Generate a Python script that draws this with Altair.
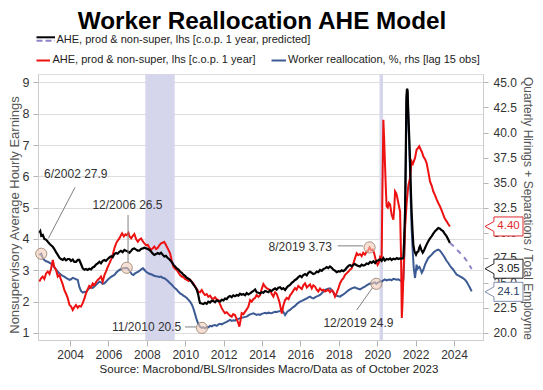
import altair as alt
import pandas as pd

# ---------------- data ----------------
red_year = [2002.40, 2002.50, 2002.57, 2002.66, 2002.75, 2002.84, 2002.93, 2003.01, 2003.10, 2003.18,
            2003.27, 2003.36, 2003.45, 2003.53, 2003.62, 2003.70, 2003.79, 2003.88, 2003.97, 2004.05,
            2004.14, 2004.22, 2004.31, 2004.40, 2004.48, 2004.57, 2004.66, 2004.75, 2004.83, 2004.92,
            2005.00, 2005.09, 2005.18, 2005.27, 2005.35, 2005.44, 2005.53, 2005.61, 2005.70, 2005.79,
            2005.87, 2005.96, 2006.05, 2006.14, 2006.22, 2006.31, 2006.40, 2006.48, 2006.57, 2006.65,
            2006.71, 2006.80, 2006.88, 2006.95, 2007.04, 2007.10, 2007.18, 2007.27, 2007.35, 2007.44,
            2007.53, 2007.61, 2007.70, 2007.79, 2007.87, 2007.96, 2008.05, 2008.13, 2008.22, 2008.30,
            2008.39, 2008.48, 2008.57, 2008.65, 2008.74, 2008.82, 2008.90, 2008.97, 2009.04, 2009.12,
            2009.21, 2009.30, 2009.38, 2009.47, 2009.56, 2009.65, 2009.73, 2009.82, 2009.90, 2009.99,
            2010.08, 2010.17, 2010.25, 2010.34, 2010.42, 2010.51, 2010.60, 2010.68, 2010.77, 2010.86,
            2010.94, 2011.03, 2011.12, 2011.20, 2011.29, 2011.38, 2011.46, 2011.55, 2011.64, 2011.73,
            2011.81, 2011.90, 2011.99, 2012.07, 2012.16, 2012.25, 2012.33, 2012.42, 2012.50, 2012.59,
            2012.68, 2012.77, 2012.82, 2012.88, 2012.94, 2013.03, 2013.12, 2013.20, 2013.29, 2013.38,
            2013.46, 2013.55, 2013.64, 2013.72, 2013.81, 2013.90, 2013.98, 2014.07, 2014.16, 2014.24,
            2014.33, 2014.42, 2014.50, 2014.59, 2014.68, 2014.76, 2014.85, 2014.90, 2014.97, 2015.03,
            2015.10, 2015.20, 2015.29, 2015.38, 2015.46, 2015.55, 2015.63, 2015.72, 2015.80, 2015.89,
            2015.98, 2016.07, 2016.15, 2016.24, 2016.33, 2016.41, 2016.50, 2016.59, 2016.67, 2016.76,
            2016.85, 2016.93, 2017.02, 2017.11, 2017.20, 2017.28, 2017.37, 2017.45, 2017.54, 2017.63,
            2017.71, 2017.80, 2017.89, 2017.98, 2018.06, 2018.15, 2018.24, 2018.32, 2018.41, 2018.50,
            2018.58, 2018.67, 2018.76, 2018.84, 2018.93, 2019.01, 2019.10, 2019.19, 2019.27, 2019.36,
            2019.45, 2019.52, 2019.60, 2019.68, 2019.76, 2019.84, 2019.92, 2020.02, 2020.09, 2020.15,
            2020.23, 2020.27, 2020.32, 2020.36, 2020.40, 2020.45, 2020.49, 2020.55, 2020.60, 2020.67,
            2020.75, 2020.84, 2020.89, 2020.93, 2021.00, 2021.05, 2021.10, 2021.19, 2021.24, 2021.28,
            2021.32, 2021.36, 2021.45, 2021.54, 2021.62, 2021.71, 2021.79, 2021.86, 2021.97, 2022.05,
            2022.12, 2022.19, 2022.27, 2022.33, 2022.40, 2022.49, 2022.57, 2022.66, 2022.75, 2022.84,
            2022.92, 2023.01, 2023.10, 2023.18, 2023.27, 2023.35, 2023.44, 2023.52, 2023.61, 2023.70,
            2023.79]
red_val = [2.64, 2.75, 2.80, 2.72, 2.90, 2.96, 2.88, 3.05, 3.33, 3.10,
           3.01, 2.80, 2.85, 2.69, 2.55, 2.37, 2.25, 2.11, 1.89, 1.85,
           1.73, 1.82, 1.89, 1.80, 1.86, 1.84, 1.95, 2.10, 2.27, 2.40,
           2.50, 2.45, 2.58, 2.53, 2.62, 2.69, 2.74, 2.80, 2.64, 2.85,
           2.96, 3.10, 3.22, 3.35, 3.49, 3.70, 3.86, 3.95, 4.02, 4.12,
           4.18, 4.08, 4.15, 4.12, 4.20, 4.08, 4.02, 4.10, 4.16, 4.00,
           3.91, 3.98, 4.02, 3.92, 3.86, 3.80, 3.81, 3.72, 3.65, 3.70,
           3.76, 3.68, 3.72, 3.80, 3.86, 3.88, 3.91, 3.84, 3.75, 3.66,
           3.54, 3.30, 3.12, 3.05, 3.01, 2.92, 2.85, 2.80, 2.78, 2.72,
           2.69, 2.66, 2.70, 2.64, 2.58, 2.48, 2.40, 2.32, 2.30, 2.37,
           2.28, 2.21, 2.24, 2.15, 2.19, 2.11, 2.08, 2.14, 2.07, 2.05,
           1.92, 1.79, 1.70, 1.63, 1.66, 1.60, 1.55, 1.52, 1.60, 1.57,
           1.45, 1.30, 1.20, 1.40, 1.63, 1.60, 1.68, 1.75, 1.84, 2.05,
           2.00, 2.08, 2.12, 2.21, 2.15, 2.20, 2.40, 2.56, 2.48, 2.43,
           2.40, 2.37, 2.25, 2.16, 2.30, 2.25, 2.10, 2.00, 1.80, 1.62,
           1.85, 2.05, 2.12, 2.08, 2.20, 2.27, 2.35, 2.43, 2.38, 2.50,
           2.45, 2.40, 2.52, 2.58, 2.45, 2.50, 2.55, 2.42, 2.52, 2.48,
           2.38, 2.32, 2.42, 2.36, 2.38, 2.32, 2.35, 2.38, 2.30, 2.36,
           2.32, 2.16, 2.28, 2.43, 2.58, 2.69, 2.75, 2.85, 2.90, 2.96,
           3.02, 3.06, 3.22, 3.38, 3.54, 3.48, 3.52, 3.45, 3.56, 3.50,
           3.59, 3.62, 3.73, 3.64, 3.66, 3.55, 3.33, 3.17, 3.25, 3.43,
           3.39, 5.50, 7.81, 7.20, 6.48, 5.60, 5.04, 5.00, 5.15, 5.10,
           4.78, 4.62, 5.00, 5.52, 5.45, 5.30, 5.15, 4.88, 3.50, 1.48,
           2.00, 2.75, 4.35, 5.20, 5.70, 5.95, 6.48, 6.40, 6.59, 6.85,
           6.90, 6.96, 6.85, 6.78, 6.64, 6.55, 6.43, 6.15, 5.84, 5.70,
           5.52, 5.40, 5.26, 5.15, 5.04, 4.92, 4.78, 4.65, 4.57, 4.48,
           4.40]

black_year = [2002.40, 2002.45, 2002.50, 2002.58, 2002.66, 2002.75, 2002.84, 2002.93, 2003.01, 2003.10,
              2003.18, 2003.27, 2003.36, 2003.45, 2003.53, 2003.62, 2003.70, 2003.79, 2003.88, 2003.97,
              2004.05, 2004.14, 2004.22, 2004.31, 2004.40, 2004.48, 2004.57, 2004.66, 2004.75, 2004.83,
              2004.92, 2005.00, 2005.09, 2005.18, 2005.27, 2005.35, 2005.44, 2005.53, 2005.61, 2005.70,
              2005.79, 2005.87, 2005.96, 2006.05, 2006.14, 2006.22, 2006.31, 2006.40, 2006.48, 2006.57,
              2006.65, 2006.74, 2006.83, 2006.92, 2007.00, 2007.09, 2007.18, 2007.26, 2007.35, 2007.44,
              2007.52, 2007.61, 2007.70, 2007.79, 2007.87, 2007.96, 2008.05, 2008.13, 2008.22, 2008.30,
              2008.39, 2008.48, 2008.57, 2008.65, 2008.74, 2008.82, 2008.91, 2008.99, 2009.08, 2009.21,
              2009.30, 2009.38, 2009.47, 2009.56, 2009.65, 2009.73, 2009.82, 2009.90, 2009.99, 2010.08,
              2010.17, 2010.25, 2010.34, 2010.42, 2010.51, 2010.60, 2010.68, 2010.73, 2010.77, 2010.86,
              2010.94, 2011.03, 2011.12, 2011.20, 2011.29, 2011.38, 2011.46, 2011.55, 2011.64, 2011.73,
              2011.81, 2011.90, 2011.99, 2012.07, 2012.16, 2012.25, 2012.33, 2012.42, 2012.50, 2012.59,
              2012.68, 2012.77, 2012.85, 2012.94, 2013.03, 2013.12, 2013.20, 2013.29, 2013.38, 2013.46,
              2013.55, 2013.64, 2013.72, 2013.81, 2013.90, 2013.98, 2014.07, 2014.16, 2014.24, 2014.33,
              2014.42, 2014.50, 2014.59, 2014.68, 2014.76, 2014.85, 2014.94, 2015.03, 2015.11, 2015.20,
              2015.29, 2015.37, 2015.46, 2015.55, 2015.63, 2015.72, 2015.80, 2015.89, 2015.98, 2016.07,
              2016.15, 2016.24, 2016.33, 2016.41, 2016.50, 2016.59, 2016.67, 2016.76, 2016.85, 2016.93,
              2017.02, 2017.11, 2017.20, 2017.28, 2017.37, 2017.45, 2017.54, 2017.63, 2017.71, 2017.80,
              2017.89, 2017.98, 2018.06, 2018.15, 2018.24, 2018.32, 2018.41, 2018.50, 2018.58, 2018.67,
              2018.76, 2018.84, 2018.93, 2019.01, 2019.10, 2019.19, 2019.27, 2019.36, 2019.45, 2019.54,
              2019.63, 2019.71, 2019.80, 2019.89, 2019.97, 2020.06, 2020.15, 2020.23, 2020.32, 2020.40,
              2020.49, 2020.58, 2020.67, 2020.75, 2020.84, 2020.93, 2021.02, 2021.10, 2021.19, 2021.28,
              2021.36, 2021.40, 2021.45, 2021.49, 2021.52, 2021.55, 2021.58, 2021.62, 2021.67, 2021.71,
              2021.75, 2021.79, 2021.84, 2021.88, 2021.94, 2022.02, 2022.08, 2022.14, 2022.19, 2022.23,
              2022.30, 2022.37, 2022.43, 2022.49, 2022.57, 2022.66, 2022.75, 2022.84, 2022.92, 2023.01,
              2023.10, 2023.18, 2023.27, 2023.35, 2023.43, 2023.52, 2023.61, 2023.70, 2023.79]
black_val = [4.20, 4.25, 4.10, 4.13, 4.00, 3.98, 3.91, 3.85, 3.80, 3.75,
             3.68, 3.58, 3.49, 3.40, 3.36, 3.33, 3.38, 3.32, 3.36, 3.36,
             3.30, 3.34, 3.27, 3.27, 3.33, 3.33, 3.20, 3.06, 3.02, 3.04,
             3.01, 3.05, 3.03, 3.09, 3.12, 3.18, 3.22, 3.27, 3.22, 3.30,
             3.33, 3.30, 3.36, 3.41, 3.45, 3.42, 3.52, 3.55, 3.53, 3.59,
             3.62, 3.58, 3.65, 3.62, 3.60, 3.56, 3.62, 3.68, 3.70, 3.66,
             3.63, 3.63, 3.68, 3.70, 3.72, 3.70, 3.68, 3.65, 3.60, 3.54,
             3.49, 3.52, 3.55, 3.52, 3.56, 3.50, 3.44, 3.46, 3.40, 3.33,
             3.26, 3.18, 3.12, 3.06, 3.02, 2.96, 2.92, 2.86, 2.82, 2.76,
             2.73, 2.69, 2.62, 2.55, 2.48, 2.38, 2.21, 2.05, 1.95, 1.94,
             1.92, 1.96, 1.93, 2.00, 1.97, 2.03, 2.02, 1.98, 2.04, 2.01,
             2.00, 2.06, 2.04, 2.10, 2.08, 2.15, 2.18, 2.14, 2.20, 2.17,
             2.21, 2.19, 2.25, 2.22, 2.24, 2.20, 2.27, 2.23, 2.26, 2.30,
             2.34, 2.39, 2.30, 2.28, 2.26, 2.30, 2.28, 2.34, 2.32, 2.30,
             2.36, 2.34, 2.39, 2.42, 2.38, 2.44, 2.46, 2.40, 2.43, 2.37,
             2.45, 2.50, 2.53, 2.60, 2.64, 2.69, 2.72, 2.78, 2.82, 2.78,
             2.85, 2.88, 2.84, 2.92, 2.96, 2.92, 2.88, 2.90, 2.96, 2.94,
             3.01, 2.98, 3.04, 3.06, 3.10, 3.07, 3.12, 3.08, 3.02, 2.99,
             2.94, 2.97, 2.96, 3.00, 2.97, 3.01, 3.08, 3.14, 3.17, 3.13,
             3.18, 3.20, 3.16, 3.14, 3.12, 3.18, 3.15, 3.17, 3.22, 3.20,
             3.27, 3.24, 3.29, 3.23, 3.30, 3.32, 3.35, 3.30, 3.39, 3.31,
             3.36, 3.34, 3.38, 3.33, 3.37, 3.35, 3.39, 3.36, 3.38, 3.37,
             3.39, 3.90, 4.88, 6.80, 8.50, 8.80, 8.75, 8.00, 7.20, 6.48,
             5.60, 4.88, 4.25, 3.82, 3.60, 3.50, 3.58, 3.60, 3.72, 3.77,
             3.65, 3.56, 3.62, 3.71, 3.82, 3.93, 4.02, 4.09, 4.17, 4.25,
             4.30, 4.35, 4.33, 4.28, 4.25, 4.16, 4.09, 3.98, 3.87]

fc_year = [2023.79, 2024.00, 2024.14, 2024.31, 2024.45, 2024.57, 2024.75, 2024.92]
fc_val = [3.87, 3.76, 3.66, 3.56, 3.46, 3.38, 3.22, 3.04]

blue_year = [2002.40, 2002.50, 2002.58, 2002.66, 2002.75, 2002.84, 2002.92, 2003.01, 2003.10, 2003.18,
             2003.27, 2003.36, 2003.44, 2003.53, 2003.62, 2003.70, 2003.79, 2003.88, 2003.97, 2004.05,
             2004.14, 2004.22, 2004.31, 2004.40, 2004.48, 2004.57, 2004.66, 2004.75, 2004.83, 2004.92,
             2005.00, 2005.09, 2005.18, 2005.27, 2005.35, 2005.44, 2005.53, 2005.61, 2005.70, 2005.79,
             2005.87, 2005.96, 2006.05, 2006.14, 2006.22, 2006.31, 2006.40, 2006.48, 2006.57, 2006.65,
             2006.74, 2006.83, 2006.95, 2007.04, 2007.13, 2007.22, 2007.30, 2007.39, 2007.48, 2007.56,
             2007.65, 2007.74, 2007.80, 2007.87, 2007.96, 2008.05, 2008.13, 2008.22, 2008.30, 2008.39,
             2008.48, 2008.57, 2008.65, 2008.74, 2008.82, 2008.91, 2008.99, 2009.08, 2009.21, 2009.30,
             2009.38, 2009.47, 2009.56, 2009.65, 2009.73, 2009.82, 2009.90, 2009.99, 2010.08, 2010.17,
             2010.25, 2010.34, 2010.42, 2010.51, 2010.60, 2010.68, 2010.77, 2010.87, 2010.94, 2011.03,
             2011.12, 2011.20, 2011.29, 2011.38, 2011.46, 2011.55, 2011.64, 2011.73, 2011.81, 2011.90,
             2011.99, 2012.07, 2012.16, 2012.25, 2012.33, 2012.42, 2012.50, 2012.59, 2012.68, 2012.77,
             2012.85, 2012.94, 2013.03, 2013.12, 2013.20, 2013.29, 2013.38, 2013.46, 2013.55, 2013.64,
             2013.72, 2013.81, 2013.90, 2013.98, 2014.07, 2014.16, 2014.24, 2014.33, 2014.42, 2014.50,
             2014.59, 2014.68, 2014.76, 2014.85, 2014.94, 2015.03, 2015.11, 2015.20, 2015.29, 2015.37,
             2015.46, 2015.55, 2015.63, 2015.72, 2015.80, 2015.89, 2015.98, 2016.07, 2016.15, 2016.24,
             2016.33, 2016.41, 2016.50, 2016.59, 2016.67, 2016.76, 2016.85, 2016.93, 2017.02, 2017.11,
             2017.20, 2017.28, 2017.37, 2017.45, 2017.54, 2017.63, 2017.71, 2017.80, 2017.89, 2017.98,
             2018.06, 2018.15, 2018.24, 2018.32, 2018.41, 2018.50, 2018.58, 2018.67, 2018.76, 2018.84,
             2018.93, 2019.01, 2019.10, 2019.19, 2019.27, 2019.36, 2019.45, 2019.54, 2019.63, 2019.71,
             2019.80, 2019.89, 2019.95, 2020.06, 2020.15, 2020.23, 2020.32, 2020.40, 2020.49, 2020.58,
             2020.67, 2020.75, 2020.84, 2020.93, 2021.02, 2021.10, 2021.19, 2021.28, 2021.36, 2021.40,
             2021.45, 2021.49, 2021.52, 2021.55, 2021.58, 2021.62, 2021.67, 2021.71, 2021.75, 2021.79,
             2021.84, 2021.90, 2021.97, 2022.02, 2022.05, 2022.10, 2022.14, 2022.19, 2022.23, 2022.28,
             2022.32, 2022.40, 2022.49, 2022.57, 2022.66, 2022.75, 2022.84, 2022.92, 2023.01, 2023.10,
             2023.18, 2023.27, 2023.35, 2023.44, 2023.53, 2023.61, 2023.70, 2023.79, 2023.87, 2023.96,
             2024.05, 2024.14, 2024.22, 2024.31, 2024.40, 2024.48, 2024.57, 2024.66, 2024.74, 2024.83,
             2024.92]
blue_val = [27.78, 27.90, 27.45, 27.28, 27.15, 27.10, 27.02, 26.90, 26.75, 26.55,
            26.35, 26.10, 25.95, 25.80, 25.70, 25.62, 25.50, 25.40, 25.29, 25.35,
            25.50, 25.45, 25.35, 25.29, 24.62, 24.20, 24.02, 24.10, 24.05, 24.30,
            24.45, 24.55, 24.50, 24.62, 24.80, 24.95, 25.12, 25.05, 24.90, 24.95,
            25.10, 25.30, 25.45, 25.60, 25.70, 25.78, 26.00, 26.15, 26.28, 26.35,
            26.45, 26.45, 26.50, 26.35, 26.10, 25.85, 25.78, 25.95, 26.05, 26.12,
            26.25, 26.40, 26.45, 26.30, 26.10, 26.00, 25.90, 25.85, 25.78, 25.70,
            25.65, 25.62, 25.58, 25.62, 25.50, 25.45, 25.36, 25.20, 24.95, 24.80,
            24.62, 24.45, 24.30, 24.10, 23.95, 23.85, 23.72, 23.62, 23.48, 23.30,
            23.12, 22.85, 22.46, 21.90, 21.29, 20.90, 20.62, 20.50, 20.55, 20.46,
            20.60, 20.55, 20.70, 20.65, 20.75, 20.79, 20.70, 20.85, 20.90, 20.85,
            20.95, 21.02, 21.10, 21.20, 21.29, 21.20, 21.25, 21.22, 21.35, 21.40,
            21.46, 21.50, 21.55, 21.60, 21.62, 21.75, 21.85, 21.90, 21.96, 21.88,
            21.80, 21.85, 21.80, 21.90, 21.95, 22.00, 21.95, 22.02, 21.98, 21.96,
            22.05, 22.10, 22.08, 22.13, 22.20, 22.29, 22.10, 21.79, 22.05, 22.20,
            22.29, 22.45, 22.58, 22.69, 22.85, 23.00, 23.12, 23.20, 23.28, 23.36,
            23.45, 23.55, 23.62, 23.50, 23.45, 23.55, 23.65, 23.70, 23.79, 23.95,
            24.15, 24.29, 24.35, 24.40, 24.45, 24.30, 24.05, 23.79, 23.70, 23.65,
            23.62, 23.75, 23.85, 23.95, 24.10, 24.25, 24.35, 24.45, 24.50, 24.55,
            24.45, 24.40, 24.35, 24.45, 24.55, 24.62, 24.75, 24.85, 24.95, 24.90,
            25.00, 25.05, 24.90, 25.05, 25.15, 25.10, 25.25, 25.35, 25.25, 25.30,
            25.32, 25.25, 25.40, 25.35, 25.30, 25.35, 25.25, 25.15, 25.30, 27.00,
            31.00, 37.00, 42.50, 44.20, 44.00, 41.50, 38.50, 36.00, 33.00, 30.50,
            28.50, 26.50, 25.48, 26.30, 26.81, 26.40, 26.50, 26.60, 26.48, 26.20,
            26.00, 26.30, 26.81, 27.15, 27.48, 27.65, 27.81, 28.00, 28.15, 28.25,
            28.31, 28.20, 28.00, 27.75, 27.48, 27.20, 26.98, 26.70, 26.50, 26.31,
            26.05, 25.81, 25.75, 25.65, 25.55, 25.45, 25.32, 25.10, 24.82, 24.50,
            24.15]

recession_start = [2007.92, 2020.12]
recession_end = [2009.45, 2020.30]

ann_label = ["6/2002 27.9", "12/2006 26.5", "11/2010 20.5", "8/2019 3.73", "12/2019 24.9"]
ann_year = [2002.50, 2006.95, 2010.87, 2019.60, 2019.95]
ann_value = [27.9, 26.5, 20.5, 3.73, 24.9]
ann_side = ["rhs", "rhs", "rhs", "lhs", "rhs"]
ann_text_year = [2004.30, 2006.99, 2007.99, 2015.99, 2019.02]
ann_text_val = [6.07, 5.09, 1.20, 3.75, 1.33]
lead_x1 = [2004.26, 2007.02, 2009.99, 2017.94, 2018.93]
lead_y1 = [5.65, 4.77, 1.19, 3.78, 1.73]
lead_x2 = [2002.87, 2007.02, 2010.56, 2019.26, 2019.80]
lead_y2 = [4.02, 3.27, 1.19, 3.78, 2.48]

end_label = ["4.40", "3.05", "24.1"]
end_value = [4.40, 3.05, 24.1]
end_side = ["lhs", "lhs", "rhs"]
end_stroke = ["#e0282e", "#222222", "#7f8db0"]
end_text_color = ["#e0282e", "#111111", "#2c3e66"]
end_nudge = [0, 0, -6]

# ---------------- layout ----------------
W, H = 445, 266
X_DOM = [2002.33, 2025.51]
L_DOM = [0.773, 9.27]
R_DOM = [20 + (L_DOM[0] - 1) * 3.125, 20 + (L_DOM[1] - 1) * 3.125]
FONT = "Liberation Sans"

def rhs_to_lhs(r):
    return 1 + (r - 20) / 3.125

xs = alt.Scale(domain=X_DOM, nice=False, zero=False)
ls = alt.Scale(domain=L_DOM, nice=False, zero=False)
rs = alt.Scale(domain=R_DOM, nice=False, zero=False)

red_df = pd.DataFrame({"year": red_year, "v": red_val})
black_df = pd.DataFrame({"year": black_year, "v": black_val})
fc_df = pd.DataFrame({"year": fc_year, "v": fc_val})
blue_df = pd.DataFrame({"year": blue_year, "r": blue_val})
rec_df = pd.DataFrame({"s": recession_start, "e": recession_end})
ann_df = pd.DataFrame({
    "label": ann_label, "year": ann_year,
    "v": [rhs_to_lhs(a) if s == "rhs" else a for a, s in zip(ann_value, ann_side)],
    "ty": ann_text_year, "tv": ann_text_val,
    "x1": lead_x1, "y1": lead_y1, "x2": lead_x2, "y2": lead_y2,
})
end_df = pd.DataFrame({
    "label": end_label,
    "v": [rhs_to_lhs(a) if s == "rhs" else a for a, s in zip(end_value, end_side)],
    "stroke": end_stroke, "tcol": end_text_color, "nudge": end_nudge,
})
one = pd.DataFrame({"k": [0]})

x_axis = alt.Axis(values=list(range(2004, 2025, 2)), format="d", title=None, grid=False,
                  labelFontSize=12, labelColor="#333333", labelFont=FONT, tickColor="#b5b5b5",
                  tickSize=6, domainColor="#cccccc", labelPadding=3)
l_axis = alt.Axis(values=list(range(1, 10)), title=None, grid=True, gridColor="#dddddd",
                  tickColor="#b5b5b5", tickSize=5, domainColor="#cccccc", labelFontSize=12.5,
                  labelColor="#333333", labelFont=FONT, labelPadding=4)
r_axis = alt.Axis(orient="right", values=[20, 22.5, 25, 27.5, 30, 32.5, 35, 37.5, 40, 42.5, 45],
                  format=".1f", title=None, grid=False, tickColor="#b5b5b5", tickSize=5,
                  domainColor="#cccccc", labelFontSize=12, labelColor="#333333", labelFont=FONT,
                  labelPadding=5)

def XQ(f):
    return alt.X(f"{f}:Q", scale=xs, axis=x_axis)

def YL(f):
    return alt.Y(f"{f}:Q", scale=ls, axis=l_axis)

bands = alt.Chart(rec_df).mark_rect(color="#d5d5ec").encode(
    x=XQ("s"), x2="e:Q", y=alt.value(0), y2=alt.value(H))

blue = alt.Chart(blue_df).mark_line(color="#3c5a94", strokeWidth=2).encode(
    x=XQ("year"), y=alt.Y("r:Q", scale=rs, axis=r_axis))

red = alt.Chart(red_df).mark_line(color="#ee1111", strokeWidth=2).encode(x=XQ("year"), y=YL("v"))
black = alt.Chart(black_df).mark_line(color="#000000", strokeWidth=2.2).encode(x=XQ("year"), y=YL("v"))
fc = alt.Chart(fc_df).mark_line(color="#8c84c8", strokeWidth=2, strokeDash=[5, 5]).encode(
    x=XQ("year"), y=YL("v"))

leaders = alt.Chart(ann_df).mark_rule(color="#808080", strokeWidth=1).encode(
    x=XQ("x1"), x2="x2:Q", y=YL("y1"), y2="y2:Q")
circles = alt.Chart(ann_df).mark_point(shape="circle", size=125, filled=True, fill="#f2cdb8",
                                       fillOpacity=0.6, stroke="#a89080", strokeWidth=1).encode(
    x=XQ("year"), y=YL("v"))
ann_text = alt.Chart(ann_df).mark_text(font=FONT, fontSize=12, color="#333333").encode(
    x=XQ("ty"), y=YL("tv"), text="label:N")

CALLOUT = "M -1 0 L -0.53 -0.26 L -0.53 -0.5 L 1 -0.5 L 1 0.5 L -0.53 0.5 L -0.53 0.26 Z"
boxes = alt.Chart(end_df).mark_point(
    shape=CALLOUT, size=1444, filled=True, fill="white", strokeWidth=1, opacity=1).encode(
    x=alt.value(466), y=YL("v"),
    stroke=alt.Stroke("stroke:N", scale=None), yOffset=alt.YOffset("nudge:Q", scale=None))
box_text = alt.Chart(end_df).mark_text(font=FONT, fontSize=11.5).encode(
    x=alt.value(470.5), y=YL("v"), text="label:N",
    color=alt.Color("tcol:N", scale=None), yOffset=alt.YOffset("nudge:Q", scale=None))

def txt(s, x, y, **kw):
    return alt.Chart(one).mark_text(text=s, font=FONT, **kw).encode(x=alt.value(x), y=alt.value(y))

def hrule(x1, x2, y, **kw):
    return alt.Chart(one).mark_rule(**kw).encode(x=alt.value(x1), x2=alt.value(x2), y=alt.value(y))

title = txt("Worker Reallocation AHE Model", 224, -45, fontSize=24.3, fontWeight="bold",
            color="#000000", align="center", baseline="alphabetic")
leg = [
    hrule(-1.5, 17, -36.7, color="#000000", strokeWidth=2),
    hrule(-1.5, 17, -33.2, color="#8c84c8", strokeWidth=2, strokeDash=[6, 3]),
    txt("AHE, prod & non-super, lhs [c.o.p. 1 year, predicted]", 18.5, -34, fontSize=11,
        color="#222222", align="left", baseline="middle"),
    hrule(-1.5, 12, -13.5, color="#ee1111", strokeWidth=2),
    txt("AHE, prod & non-super, lhs [c.o.p. 1 year]", 14.5, -14, fontSize=11,
        color="#222222", align="left", baseline="middle"),
    hrule(233.5, 248, -13.5, color="#3c5a94", strokeWidth=2),
    txt("Worker reallocation, %, rhs [lag 15 obs]", 250, -14, fontSize=11,
        color="#222222", align="left", baseline="middle"),
]
ltitle = txt("Nonsupervisory Average Hourly Earnings", -23, 141, fontSize=13, angle=270,
             color="#555555", align="center", baseline="middle")
rtitle = txt("Quarterly Hirings + Separations / Total Employment", 490, 3, fontSize=12, angle=90,
             color="#555555", align="left", baseline="middle", limit=268, ellipsis=" ")
source = txt("Source: Macrobond/BLS/Ironsides Macro/Data as of October 2023", 231, 296,
             fontSize=11.5, color="#222222", align="center", baseline="middle")

# black drawn on top of red
left_group = alt.layer(red, black, fc, leaders, circles, ann_text, boxes, box_text,
                       title, *leg, ltitle, rtitle, source)

chart = alt.layer(bands, blue, left_group).resolve_scale(y="independent").properties(
    width=W, height=H,
    padding={"left": 30, "top": 66, "right": 52, "bottom": 36},
    autosize=alt.AutoSizeParams(type="none"),
).configure_view(stroke=None).configure(background="white")

chart.save("out.html", embed_options={"renderer": "svg", "actions": False})
